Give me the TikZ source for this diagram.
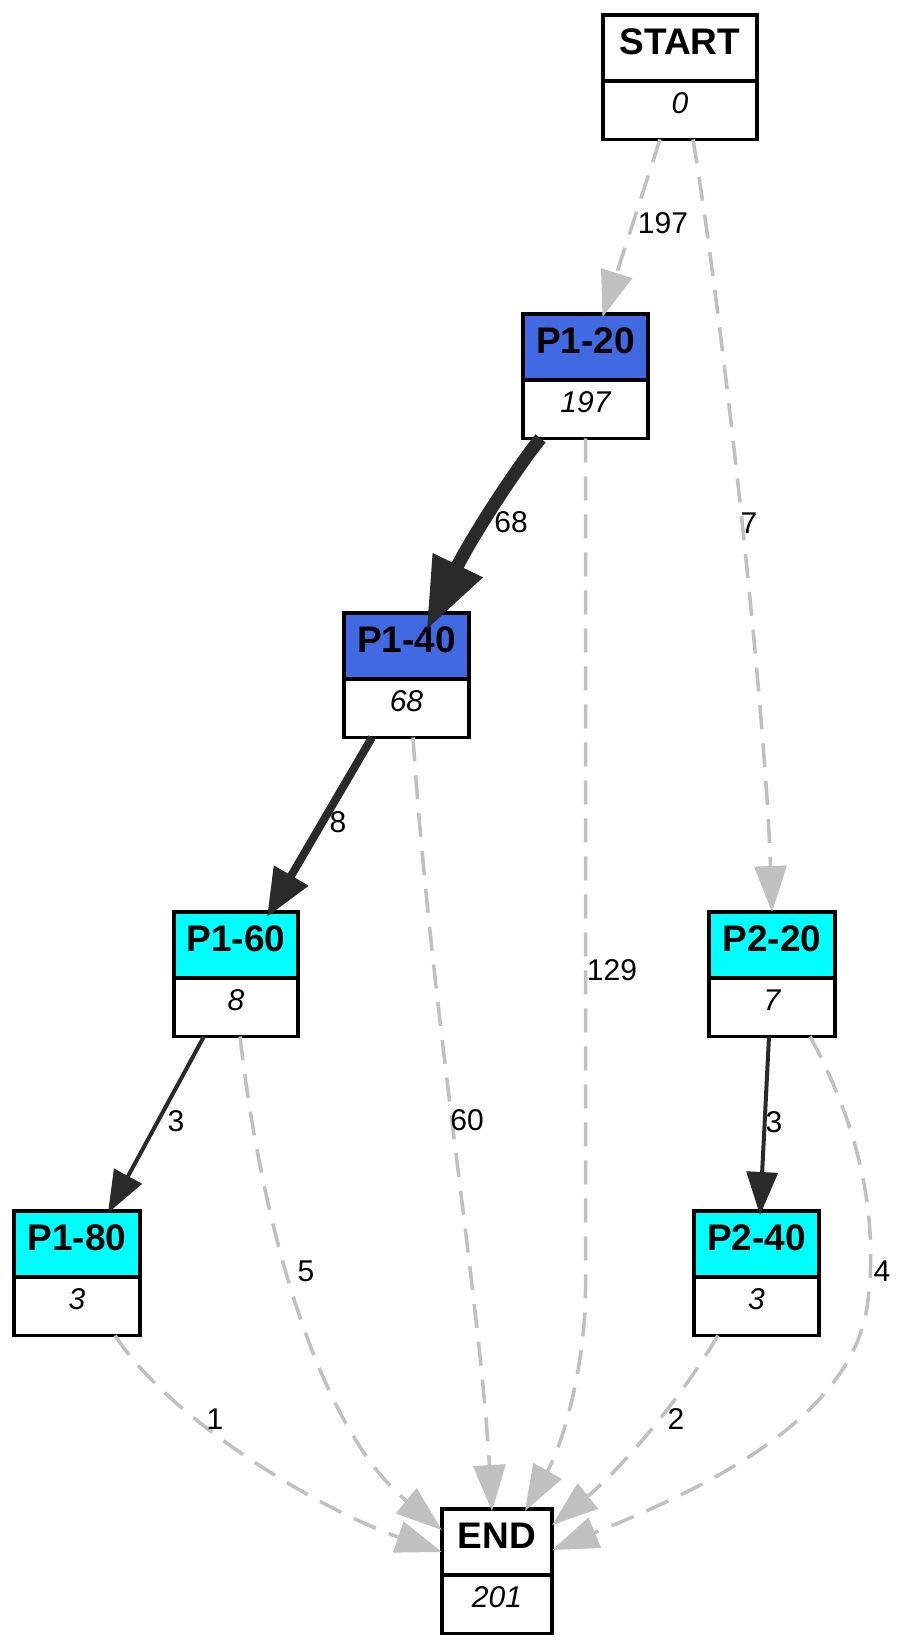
\documentclass[tikz,border=0pt]{standalone}
\usepackage{fontspec}
\setmainfont{Liberation Sans}
\usetikzlibrary{arrows.meta,calc}
\definecolor{hdrblue}{HTML}{4169E1}
\definecolor{hdrcyan}{HTML}{00FFFF}
\definecolor{edgegray}{HTML}{C0C0C0}
\definecolor{edgedark}{HTML}{2A2A2A}

\tikzset{
  boxframe/.style={draw=black, line width=3.5pt},
  titletext/.style={font=\fontsize{37}{40}\selectfont\bfseries, inner sep=0pt},
  valuetext/.style={font=\fontsize{30}{33}\selectfont\itshape, inner sep=0pt},
  elabel/.style={font=\fontsize{30}{33}\selectfont, inner sep=0pt},
  skipflow/.style={draw=edgegray, line width=3.5pt, dash pattern=on 24pt off 14pt,
    -{Triangle[length=46pt,width=32pt]}},
  mainflow/.style={draw=edgedark},
}

% record box: name, centre x, top y, width, header colour, title, value
\newcommand\recbox[7]{%
  \path (#2,#3) coordinate (#1-top);
  \node[minimum width=#4pt, minimum height=124pt, inner sep=0pt, anchor=north] (#1) at (#1-top) {};
  \fill[#5] (#1.north west) rectangle ($(#1.north east)+(0,66)$);
  \draw[boxframe] ($(#1.north west)+(0,66)$) -- ($(#1.north east)+(0,66)$);
  \draw[boxframe] (#1.north west) rectangle (#1.south east);
  \node[titletext] (#1-t) at ($(#1-top)+(0,27)$) {#6};
  \node[valuetext] (#1-v) at ($(#1-top)+(0,88)$) {#7};
}

\begin{document}
\begin{tikzpicture}[x=1pt,y=-1pt]
\useasboundingbox (0,0) rectangle (908,1650);
\fill[white] (0,0) rectangle (908,1650);

% boxes
\recbox{nStart}{680}{15}{154}{white}{START}{0}
\recbox{nPa}{585.5}{314}{125}{hdrblue}{P1-20}{197}
\recbox{nPb}{406.5}{613}{125}{hdrblue}{P1-40}{68}
\recbox{nPc}{236}{912}{124}{hdrcyan}{P1-60}{8}
\recbox{nQa}{772}{912}{126}{hdrcyan}{P2-20}{7}
\recbox{nPd}{77}{1211}{126}{hdrcyan}{P1-80}{3}
\recbox{nQb}{756.5}{1211}{125}{hdrcyan}{P2-40}{3}
\recbox{nEnd}{497}{1509}{110}{white}{END}{201}

% skipped transitions (dashed)
\draw[skipflow] ([xshift=-20pt]nStart.south) -- ([xshift=17pt,yshift=-3pt]nPa.north);
\draw[skipflow] ([xshift=13pt]nStart.south) .. controls (720,300) and (765,700) .. (nQa.north);
\draw[skipflow] (nPa.south) -- (585.5,1290) .. controls (585.5,1360) and (565,1440) .. ([xshift=28pt,yshift=-2pt]nEnd.north);
\draw[skipflow] ([xshift=6.5pt]nPb.south) .. controls (430,1000) and (480,1300) .. ([xshift=-5pt,yshift=-2pt]nEnd.north);
\draw[skipflow] ([xshift=4pt]nPc.south) .. controls (262,1230) and (320,1430) .. ([yshift=-21pt]nEnd.north west);
\draw[skipflow] ([xshift=38pt]nPd.south) .. controls (170,1420) and (320,1510) .. ([yshift=-43pt]nEnd.north west);
\draw[skipflow] ([xshift=38pt]nQa.south) .. controls (850,1110) and (880,1200) .. (868,1300)
  .. controls (855,1420) and (700,1490) .. ([yshift=-41pt]nEnd.north east);
\draw[skipflow] ([xshift=-38.5pt]nQb.south) .. controls (680,1400) and (620,1470) .. ([yshift=-16pt]nEnd.north east);

% main transitions (solid)
\draw[mainflow, line width=13pt, -{Triangle[length=72pt,width=52pt]}]
  ([xshift=-45pt]nPa.south) .. controls (515,470) and (470,540) .. ([xshift=20pt,yshift=-17pt]nPb.north);
\draw[mainflow, line width=8pt, -{Triangle[length=48pt,width=38pt]}]
  ([xshift=-34.5pt]nPb.south) -- ([xshift=31pt,yshift=-5pt]nPc.north);
\draw[mainflow, line width=4pt, -{Triangle[length=42pt,width=31pt]}]
  ([xshift=-32pt]nPc.south) -- ([xshift=31pt,yshift=-2pt]nPd.north);
\draw[mainflow, line width=4pt, -{Triangle[length=43pt,width=31pt]}]
  ([xshift=-3pt]nQa.south) -- ([xshift=3.5pt,yshift=-4pt]nQb.north);

% edge counts
\node[elabel] (lStartPa) at (663,223) {197};
\node[elabel] (lStartQa) at (749,523) {7};
\node[elabel] (lPaPb) at (511,522) {68};
\node[elabel] (lPaEnd) at (612,970) {129};
\node[elabel] (lPbPc) at (338,822) {8};
\node[elabel] (lPbEnd) at (467,1120) {60};
\node[elabel] (lPcPd) at (176,1121) {3};
\node[elabel] (lPcEnd) at (306,1271) {5};
\node[elabel] (lQaQb) at (774,1122) {3};
\node[elabel] (lQaEnd) at (882,1271) {4};
\node[elabel] (lPdEnd) at (215,1419) {1};
\node[elabel] (lQbEnd) at (676,1419) {2};
\end{tikzpicture}
\end{document}
